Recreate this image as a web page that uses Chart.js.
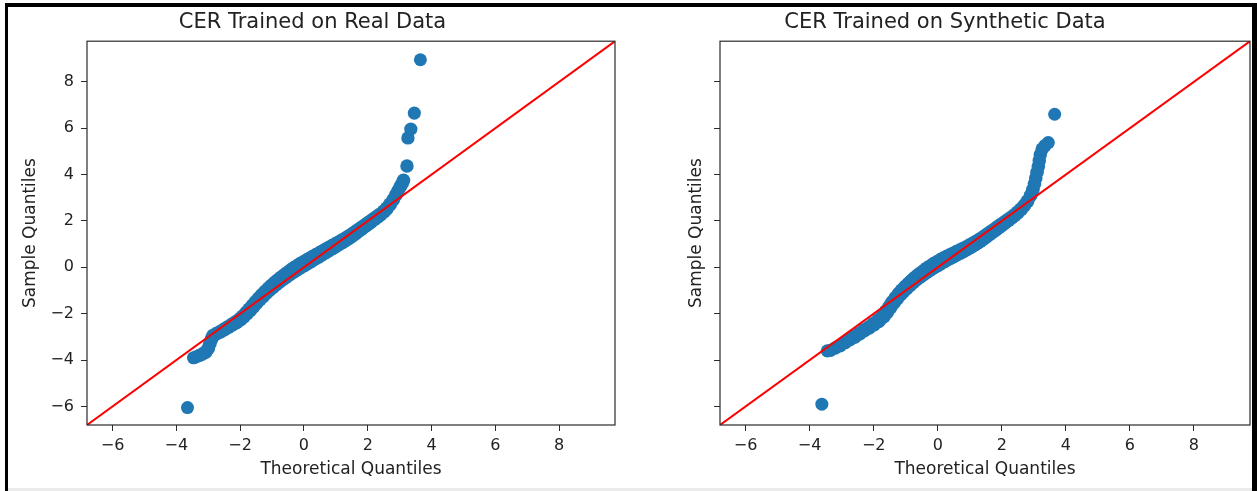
<!DOCTYPE html>
<html>
  <head>
    <script src="https://cdn.jsdelivr.net/npm/chart.js"></script>
  </head>
  <style>
    body {
      margin: 0;
      background: white;
      width: 1257px;
      height: 491px;
      overflow: hidden;
      position: relative;
      font-family: "DejaVu Sans", sans-serif;
    }
    canvas {
      position: absolute;
      top: 0;
    }
    #realChart { left: 10px; }
    #synthChart { left: 640px; }
    #frame {
      position: absolute;
      left: 5px;
      top: 3px;
      width: 1252px;
      height: 488px;
      border-top: 4px solid black;
      border-left: 3px solid black;
      border-right: 5px solid black;
      box-sizing: border-box;
      pointer-events: none;
    }
    #bottomStrip {
      position: absolute;
      left: 8px;
      top: 488px;
      width: 1244px;
      height: 3px;
      background: #ebebeb;
    }
  </style>
  <body>
    <canvas id="realChart" width="607" height="488"></canvas>
    <canvas id="synthChart" width="612" height="488"></canvas>
    <div id="frame"></div>
    <div id="bottomStrip"></div>
    <script>
      // shared axis range and tick positions (both panels)
      const AXIS_LIMITS = [-6.8, 9.75];
      const TICKS = [-6, -4, -2, 0, 2, 4, 6, 8];

      // CER trained on real data: theoretical vs sample quantiles
      const THEO_REAL = [-3.65, -3.46, -3.38, -3.28, -3.18, -3.08, -3.0, -2.95, -2.9, -2.85, -2.75, -2.62, -2.5, -2.38, -2.25, -2.12, -2.0, -1.9, -1.8, -1.7, -1.6, -1.5, -1.4, -1.3, -1.2, -1.1, -1.0, -0.9, -0.8, -0.7, -0.6, -0.5, -0.4, -0.3, -0.2, -0.1, 0, 0.1, 0.2, 0.3, 0.4, 0.5, 0.6, 0.7, 0.8, 0.9, 1.0, 1.1, 1.2, 1.3, 1.4, 1.5, 1.6, 1.7, 1.8, 1.9, 2.0, 2.1, 2.2, 2.3, 2.4, 2.5, 2.6, 2.7, 2.8, 2.88, 2.95, 3.02, 3.08, 3.12, 3.23, 3.26, 3.35, 3.46, 3.65];
      const SAMPLE_REAL = [-6.05, -3.9, -3.86, -3.8, -3.74, -3.66, -3.5, -3.3, -3.1, -2.95, -2.87, -2.78, -2.68, -2.58, -2.47, -2.36, -2.24, -2.12, -1.98, -1.83, -1.68, -1.52, -1.37, -1.22, -1.08, -0.95, -0.83, -0.71, -0.6, -0.49, -0.39, -0.29, -0.19, -0.1, -0.01, 0.08, 0.16, 0.24, 0.32, 0.4, 0.48, 0.56, 0.64, 0.72, 0.8, 0.88, 0.96, 1.04, 1.12, 1.2, 1.29, 1.38, 1.48, 1.58, 1.68, 1.78, 1.88, 1.98, 2.08, 2.18, 2.28, 2.4, 2.54, 2.72, 2.92, 3.12, 3.3, 3.48, 3.62, 3.75, 4.37, 5.58, 5.96, 6.65, 8.95];

      // CER trained on synthetic data
      const THEO_SYNTH = [-3.62, -3.45, -3.35, -3.2, -3.05, -2.9, -2.75, -2.6, -2.45, -2.3, -2.15, -2.0, -1.85, -1.7, -1.6, -1.5, -1.4, -1.3, -1.2, -1.1, -1.0, -0.9, -0.8, -0.7, -0.6, -0.5, -0.4, -0.3, -0.2, -0.1, 0, 0.1, 0.2, 0.3, 0.4, 0.5, 0.6, 0.7, 0.8, 0.9, 1.0, 1.1, 1.2, 1.3, 1.4, 1.5, 1.6, 1.7, 1.8, 1.9, 2.0, 2.1, 2.2, 2.3, 2.4, 2.5, 2.6, 2.7, 2.8, 2.9, 2.97, 3.02, 3.06, 3.1, 3.14, 3.17, 3.2, 3.26, 3.35, 3.45, 3.65];
      const SAMPLE_SYNTH = [-5.9, -3.6, -3.58, -3.48, -3.38, -3.25, -3.12, -3.0, -2.86, -2.72, -2.6, -2.45, -2.3, -2.1, -1.92, -1.72, -1.52, -1.34, -1.17, -1.02, -0.88, -0.75, -0.62, -0.5, -0.39, -0.29, -0.19, -0.09, 0.0, 0.09, 0.17, 0.25, 0.33, 0.4, 0.47, 0.54, 0.61, 0.68, 0.75, 0.82, 0.9, 0.98, 1.06, 1.15, 1.24, 1.34, 1.44, 1.54, 1.64, 1.74, 1.84, 1.94, 2.04, 2.14, 2.25, 2.37, 2.5, 2.66, 2.85, 3.1, 3.35, 3.6, 3.85, 4.1, 4.35, 4.6, 4.85, 5.1, 5.25, 5.38, 6.6];

      const COLORS = {
        blue: '#1f77b4',
        red: '#ff0000',
        axis: '#2b2b2b',
        text: '#222222'
      };

      const minusLabel = (v) => (v < 0 ? '\u2212' + Math.abs(v) : String(v));

      // many overlapping markers near the centre make the band look fatter there
      const markerRadius = (ctx) => {
        const p = ctx.raw;
        if (!p) return 6.5;
        const t = Math.min(Math.abs(p.x) / 3.6, 1);
        return 6.5 + 2.2 * (1 - t);
      };

      // box around the plotting area (matplotlib-style spines)
      const framePlugin = {
        id: 'frame',
        afterDraw: (chart) => {
          const a = chart.chartArea;
          const ctx = chart.ctx;
          ctx.save();
          ctx.strokeStyle = COLORS.axis;
          ctx.lineWidth = 1.2;
          ctx.strokeRect(a.left, a.top, a.right - a.left, a.bottom - a.top);
          ctx.restore();
        }
      };

      const drawQQ = (canvasId, params) => {
        const points = params.theo.map((x, i) => ({ x: x, y: params.sample[i] }));
        const line = AXIS_LIMITS.map((v) => ({ x: v, y: v }));

        const config = {
          type: 'scatter',
          data: {
            datasets: [
              {
                label: '45 degree line',
                data: line,
                showLine: true,
                borderColor: COLORS.red,
                borderWidth: 2,
                pointRadius: 0
              },
              {
                label: 'quantiles',
                data: points,
                backgroundColor: COLORS.blue,
                borderWidth: 0,
                pointRadius: markerRadius,
                pointHoverRadius: markerRadius
              }
            ]
          },
          options: {
            responsive: false,
            animation: false,
            layout: { padding: { left: 0, top: 0, bottom: 0, right: 2 }, autoPadding: false },
            plugins: {
              legend: { display: false },
              tooltip: { enabled: false },
              title: {
                display: true,
                text: params.title,
                color: COLORS.text,
                font: { family: 'DejaVu Sans', size: 21, weight: 'normal' },
                padding: { top: 10, bottom: 6 }
              }
            },
            scales: {
              x: {
                type: 'linear',
                min: AXIS_LIMITS[0],
                max: AXIS_LIMITS[1],
                afterBuildTicks: (s) => { s.ticks = TICKS.map((v) => ({ value: v })); },
                afterFit: (s) => { s.height = 488 - 425; },
                border: { display: false },
                grid: {
                  drawOnChartArea: false,
                  drawTicks: true,
                  tickLength: 6,
                  tickColor: COLORS.axis
                },
                ticks: {
                  color: COLORS.text,
                  font: { family: 'DejaVu Sans', size: 16 },
                  padding: 5,
                  maxRotation: 0,
                  callback: minusLabel
                },
                title: {
                  display: true,
                  text: 'Theoretical Quantiles',
                  color: COLORS.text,
                  font: { family: 'DejaVu Sans', size: 17 },
                  padding: { top: 0, bottom: 8 }
                }
              },
              y: {
                type: 'linear',
                min: AXIS_LIMITS[0],
                max: AXIS_LIMITS[1],
                afterBuildTicks: (s) => { s.ticks = TICKS.map((v) => ({ value: v })); },
                afterFit: (s) => { s.width = params.yAxisWidth; },
                border: { display: false },
                grid: {
                  drawOnChartArea: false,
                  drawTicks: true,
                  tickLength: 6,
                  tickColor: COLORS.axis
                },
                ticks: {
                  display: params.showYTicks,
                  color: COLORS.text,
                  font: { family: 'DejaVu Sans', size: 16 },
                  padding: 7,
                  callback: minusLabel
                },
                title: {
                  display: true,
                  text: 'Sample Quantiles',
                  color: COLORS.text,
                  font: { family: 'DejaVu Sans', size: 17 },
                  padding: { top: params.yTitlePad, bottom: 0 }
                }
              }
            }
          },
          plugins: [framePlugin]
        };

        return new Chart(document.getElementById(canvasId), config);
      };

      drawQQ('realChart', {
        title: 'CER Trained on Real Data',
        theo: THEO_REAL,
        sample: SAMPLE_REAL,
        yAxisWidth: 77,
        yTitlePad: 10,
        showYTicks: true
      });

      drawQQ('synthChart', {
        title: 'CER Trained on Synthetic Data',
        theo: THEO_SYNTH,
        sample: SAMPLE_SYNTH,
        yAxisWidth: 80,
        yTitlePad: 46,
        showYTicks: false
      });
    </script>
  </body>
</html>
